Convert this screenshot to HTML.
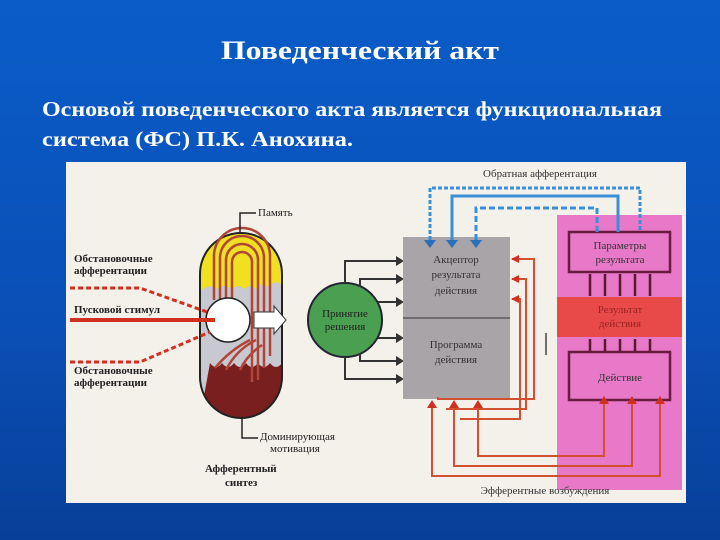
<!DOCTYPE html>
<html><head><meta charset="utf-8"><style>
html,body{margin:0;padding:0;width:720px;height:540px;overflow:hidden}
body{background:linear-gradient(180deg,#0a5cc8 0%,#0a4fb6 60%,#083f98 100%)}
</style></head><body>
<svg width="720" height="540" xmlns="http://www.w3.org/2000/svg" font-family="Liberation Serif, serif">
<text x="360" y="59" fill="#fff" font-size="26" font-weight="bold" text-anchor="middle" textLength="278" lengthAdjust="spacingAndGlyphs">Поведенческий акт</text>
<text x="42" y="116" fill="#fff" font-size="21" font-weight="bold" textLength="620" lengthAdjust="spacingAndGlyphs">Основой поведенческого акта является функциональная</text>
<text x="42" y="146" fill="#fff" font-size="21" font-weight="bold" textLength="311" lengthAdjust="spacingAndGlyphs">система (ФС) П.К. Анохина.</text>
<rect x="66" y="162" width="620" height="341" fill="#f4f0ea"/>
<defs><clipPath id="cap"><rect x="200" y="233" width="82" height="185" rx="41"/></clipPath></defs>
<g clip-path="url(#cap)">
<rect x="200" y="233" width="82" height="185" fill="#c8c8d0"/>
<path d="M200 233h82v52q-8-6-14 2q-6-6-12 2q-6-6-12 0q-6-6-12 0q-8-6-14 0q-8-6-18 2z" fill="#f0e020"/>
<path d="M200 418h82v-55q-6 8-12 0q-6 8-12 0q-6 8-12 0q-6 8-12 0q-6 8-12 0q-6 8-12 0z" fill="#7a1f1f"/>
</g>
<rect x="200" y="233" width="82" height="185" rx="41" fill="none" stroke="#222" stroke-width="2"/>
<g fill="none" stroke="#b0453a" stroke-width="2.5">
<path d="M226 300v-40a16 16 0 0 1 32 0v120"/><path d="M232 300v-38a10 10 0 0 1 20 0v120"/>
<path d="M220 300v-42a22 22 0 0 1 44 0v110"/><path d="M214 300v-44a28 28 0 0 1 56 0v100"/>
<path d="M256 340q-20 10-30 30M262 345q-15 10-22 25M250 340q-20 10-35 28"/>
</g>
<circle cx="228" cy="320" r="22" fill="#fff" stroke="#222" stroke-width="1.5"/>
<line x1="70" y1="320" x2="215" y2="320" stroke="#d03020" stroke-width="4"/>
<path d="M70 288h70l70 25M70 362h70l70-30" fill="none" stroke="#d03020" stroke-width="3" stroke-dasharray="5 3"/>
<path d="M254 312h20v-6l12 14-12 14v-6h-20z" fill="#fff" stroke="#333"/>
<circle cx="345" cy="320" r="37" fill="#4aa050" stroke="#223" stroke-width="2"/>
<g font-size="11" fill="#222">
<text x="345" y="317" text-anchor="middle">Принятие</text><text x="345" y="330" text-anchor="middle">решения</text>
<text x="258" y="216">Память</text>
<text x="74" y="262" font-weight="bold">Обстановочные</text><text x="74" y="274" font-weight="bold">афферентации</text>
<text x="74" y="313" font-weight="bold">Пусковой стимул</text>
<text x="74" y="374" font-weight="bold">Обстановочные</text><text x="74" y="386" font-weight="bold">афферентации</text>
<text x="260" y="440">Доминирующая</text><text x="270" y="452">мотивация</text>
<text x="205" y="472" font-weight="bold">Афферентный</text><text x="225" y="486" font-weight="bold">синтез</text>
</g>
<path d="M240 233v-20h16M242 418v20h16" fill="none" stroke="#222" stroke-width="1.5"/>
<g stroke="#333" stroke-width="2" fill="none">
<path d="M345 283v-22h52M360 287v-8h37M378 302h19M378 338h19M360 353v8h37M345 357v22h52"/>
</g>
<path d="M396 256l8 5-8 5zM396 274l8 5-8 5zM396 297l8 5-8 5zM396 333l8 5-8 5zM396 356l8 5-8 5zM396 374l8 5-8 5z" fill="#333"/>
<rect x="403" y="237" width="107" height="162" fill="#a8a4a8"/>
<line x1="403" y1="318" x2="510" y2="318" stroke="#333"/>
<g font-size="11" fill="#333" text-anchor="middle">
<text x="456" y="263">Акцептор</text><text x="456" y="278">результата</text><text x="456" y="294">действия</text>
<text x="456" y="348">Программа</text><text x="456" y="363">действия</text>
</g>
<rect x="557" y="215" width="125" height="275" fill="#e878c8"/>
<rect x="557" y="297" width="125" height="40" fill="#e84a4a"/>
<rect x="569" y="232" width="101" height="40" fill="none" stroke="#6a1a40" stroke-width="2.5"/>
<rect x="569" y="352" width="101" height="48" fill="none" stroke="#6a1a40" stroke-width="2.5"/>
<g font-size="11" fill="#333" text-anchor="middle">
<text x="620" y="249">Параметры</text><text x="620" y="263">результата</text>
<text x="620" y="313" fill="#922">Результат</text><text x="620" y="327" fill="#922">действия</text>
<text x="620" y="381">Действие</text>
<text x="540" y="177">Обратная афферентация</text>
<text x="545" y="494">Эфферентные возбуждения</text>
</g>
<g stroke="#5a1a30" stroke-width="2.5">
<path d="M590 296v-22M605 296v-22M620 296v-22M635 296v-22M650 296v-22M590 351v-12M605 351v-12M620 351v-12M635 351v-12M650 351v-12"/>
</g>
<g fill="none" stroke="#3a90d8" stroke-width="3">
<path d="M430 240v-52h210v44" stroke-dasharray="4 2"/>
<path d="M452 240v-44h166v36"/>
<path d="M476 240v-32h121v24" stroke-dasharray="6 3"/>
</g>
<path d="M424 240l6 8 6-8zM446 240l6 8 6-8zM470 240l6 8 6-8z" fill="#2a70b8"/>
<g fill="none" stroke="#d05030" stroke-width="2">
<path d="M512 259h22v140h-96v-2M512 279h14v130h-80M512 299h8v120h-60"/>
<path d="M432 406v70h228v-73M454 406v60h178v-63M478 406v50h126v-53"/>
</g>
<path d="M519 255l-8 4 8 4zM519 275l-8 4 8 4zM519 295l-8 4 8 4z" fill="#d03020"/>
<path d="M427 408l5-8 5 8zM449 408l5-8 5 8zM473 408l5-8 5 8zM599 404l5-8 5 8zM627 404l5-8 5 8zM655 404l5-8 5 8z" fill="#d03020"/>
<line x1="546" y1="355" x2="546" y2="333" stroke="#444" stroke-width="1.5"/>
</svg>
</body></html>
